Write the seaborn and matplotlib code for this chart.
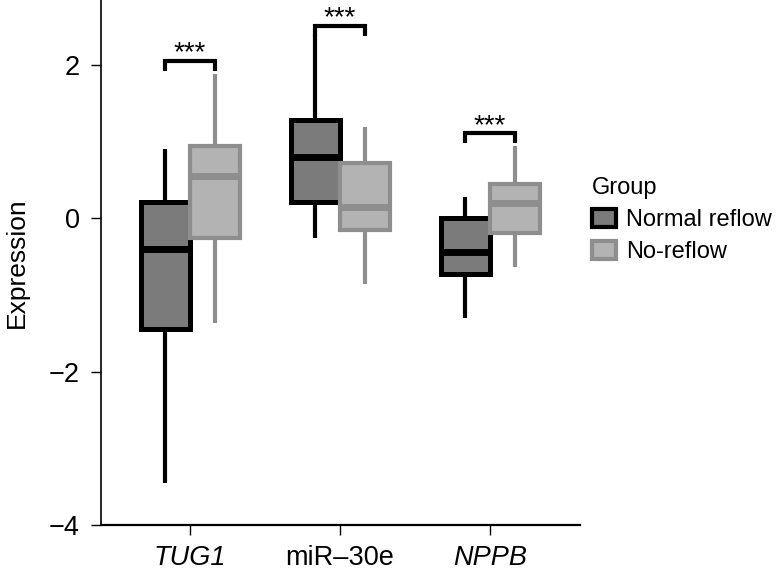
import matplotlib
matplotlib.use("Agg")
import matplotlib.pyplot as plt
from matplotlib.patches import Patch
import seaborn as sns
import pandas as pd

# five-number summaries (min, q1, median, q3, max)
genes = ["TUG1", "miR–30e", "NPPB"]
groups = ["Normal reflow", "No-reflow"]
tug1_normal = [-3.45, -1.44, -0.40, 0.21, 0.90]
tug1_noreflow = [-1.36, -0.26, 0.55, 0.95, 1.89]
mir30e_normal = [-0.26, 0.21, 0.80, 1.29, 2.39]
mir30e_noreflow = [-0.86, -0.15, 0.15, 0.72, 1.19]
nppb_normal = [-1.30, -0.72, -0.44, 0.01, 0.28]
nppb_noreflow = [-0.64, -0.19, 0.20, 0.45, 0.94]
bracket_y = [2.05, 2.51, 1.11]

values = {
    ("TUG1", "Normal reflow"): tug1_normal,
    ("TUG1", "No-reflow"): tug1_noreflow,
    ("miR–30e", "Normal reflow"): mir30e_normal,
    ("miR–30e", "No-reflow"): mir30e_noreflow,
    ("NPPB", "Normal reflow"): nppb_normal,
    ("NPPB", "No-reflow"): nppb_noreflow,
}
rows = []
for (g, grp), vals in values.items():
    for v in vals:
        rows.append({"gene": g, "Group": grp, "value": v})
df = pd.DataFrame(rows)

sns.set_style("ticks")
plt.rcParams["font.family"] = ["Liberation Sans", "DejaVu Sans"]
plt.rcParams["text.color"] = "black"
plt.rcParams["axes.labelcolor"] = "black"
plt.rcParams["xtick.color"] = "black"
plt.rcParams["ytick.color"] = "black"
plt.rcParams["axes.edgecolor"] = "black"

face = {"Normal reflow": "#7b7b7b", "No-reflow": "#b3b3b3"}
edge = {"Normal reflow": "#000000", "No-reflow": "#8e8e8e"}

fig = plt.figure(figsize=(7.78, 5.75), dpi=100)
ax = fig.add_axes([0.130, 0.087, 0.6155, 0.913])

width = 0.66
sns.boxplot(data=df, x="gene", y="value", hue="Group", order=genes,
            hue_order=groups, palette=face, width=width, gap=0.0,
            whis=(0, 100), showcaps=False, fliersize=0,
            linewidth=3.2, legend=False, ax=ax)

# recolour edges per group
for cont, grp in zip(ax.containers, groups):
    for b in cont.boxes:
        b.set_edgecolor(edge[grp])
        b.set_linewidth(3.6 if grp == "Normal reflow" else 3.0)
    for ln in cont.whiskers:
        ln.set_color(edge[grp])
        ln.set_linewidth(3.0)
    for ln in cont.medians:
        ln.set_color(edge[grp])
        ln.set_linewidth(5.0)

# significance brackets
off = width / 4
for i, y in enumerate(bracket_y):
    ax.plot([i - off, i - off, i + off, i + off], [y - 0.13, y, y, y - 0.13],
            color="black", lw=3.0, solid_capstyle="butt", solid_joinstyle="miter")
    ax.text(i, y - 0.07, "***", ha="center", va="bottom", fontsize=20)

ax.set_xlim(-0.593, 2.6)
ax.set_ylim(-4, 2.85)
ax.set_yticks([-4, -2, 0, 2])
ax.set_yticklabels(["−4", "−2", "0", "2"])
ax.set_xlabel("")
ax.set_ylabel("Expression", fontsize=19, labelpad=14)
ax.tick_params(axis="both", labelsize=19.5, length=7.5, width=1.0)
ax.tick_params(axis="y", pad=8)
ax.tick_params(axis="x", pad=7)
for lbl in ax.get_xticklabels():
    if lbl.get_text() in ("TUG1", "NPPB"):
        lbl.set_fontstyle("italic")
sns.despine(ax=ax)
ax.spines["left"].set_linewidth(1.2)
ax.spines["bottom"].set_linewidth(1.6)

handles = [Patch(facecolor=face[g], edgecolor=edge[g], linewidth=3) for g in groups]
leg = fig.legend(handles, groups, title="Group", loc="upper left",
                 bbox_to_anchor=(0.733, 0.729), frameon=False, fontsize=17,
                 title_fontsize=17, handlelength=1.05, handleheight=0.85,
                 handletextpad=0.42, labelspacing=0.4, alignment="left")

fig.savefig("out.png", dpi=100)
